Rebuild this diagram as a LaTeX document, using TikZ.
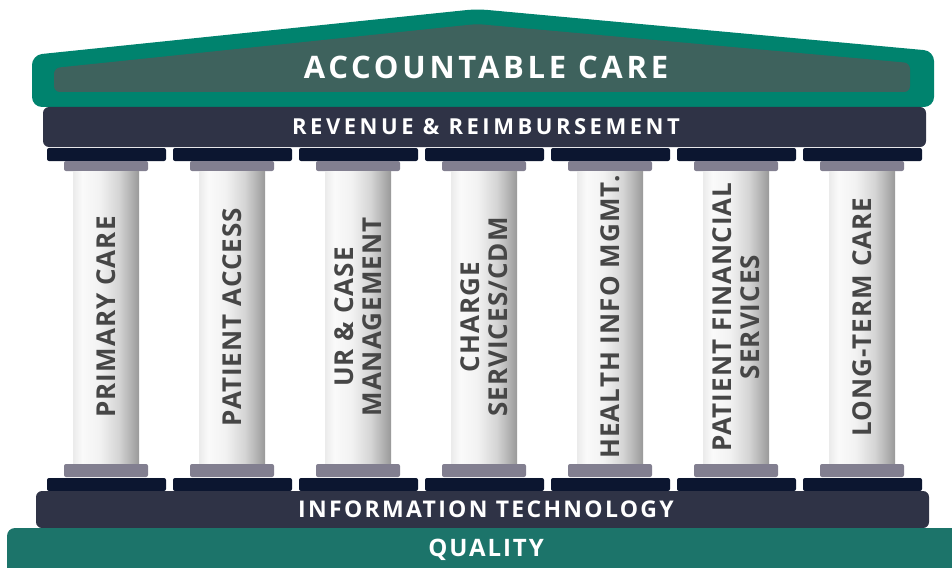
\documentclass[tikz,border=0pt]{standalone}
\usepackage{fontspec}
\setmainfont{Open Sans}
\newcommand\bandsize[2]{\bfseries\fontsize{#1}{#1}\selectfont\addfontfeatures{LetterSpace=#2}}
\definecolor{roofgreen}{HTML}{00836E}
\definecolor{roofinner}{HTML}{3E625D}
\definecolor{bandnavy}{HTML}{2F3346}
\definecolor{capnavy}{HTML}{0C1630}
\definecolor{capgrey}{HTML}{827F90}
\definecolor{qualgreen}{HTML}{1C746A}
\definecolor{pillartext}{HTML}{464646}
\pgfdeclarehorizontalshading{shaft}{100bp}{color(0bp)=(black!8); color(25bp)=(black!8); color(32bp)=(black!2); color(45bp)=(black!5); color(60bp)=(black!17); color(75bp)=(black!40); color(100bp)=(black!40)}
\begin{document}
\begin{tikzpicture}[x=1pt,y=-1pt,
    bandtext/.style={text=white, anchor=base},
    pillarlabel/.style={text=pillartext, font=\bfseries\fontsize{26}{28.5}\selectfont\addfontfeatures{LetterSpace=4}, rotate=90, align=center}]
  \useasboundingbox (0,0) rectangle (952,567);

  % roof
  \fill[roofgreen, rounded corners=10] (32,107) -- (32,55) -- (477,9) -- (934,51) -- (934,107) -- cycle;
  \fill[roofinner, rounded corners=6] (54,92) -- (54,68) -- (477,24) -- (910,63) -- (910,92) -- cycle;
  \node[bandtext, font=\bandsize{31}{12}] (care) at (486,79) {ACCOUNTABLE CARE};

  % beam
  \fill[bandnavy, rounded corners=6] (43,107) rectangle (926,147);
  \node[bandtext, font=\bandsize{22}{16}] (revenue) at (486,134) {REVENUE \& REIMBURSEMENT};

  % pillars
  \foreach \i in {0,...,6}{
    \fill[capnavy, rounded corners=2] (47+126*\i,148) rectangle (166+126*\i,161);
    \fill[capgrey, rounded corners=2] (64+126*\i,161) rectangle (148+126*\i,171);
    \shade[shading=shaft] (73+126*\i,171) rectangle (139+126*\i,464);
    \fill[capgrey, rounded corners=2] (64+126*\i,464) rectangle (148+126*\i,477);
    \fill[capnavy, rounded corners=2] (47+126*\i,478) rectangle (166+126*\i,491);
  }

  \foreach \i/\txt in {0/{PRIMARY CARE}, 1/{PATIENT ACCESS}, 2/{UR \& CASE\\MANAGEMENT},
      3/{CHARGE\\SERVICES/CDM}, 4/{HEALTH INFO MGMT.}, 5/{PATIENT FINANCIAL\\SERVICES},
      6/{LONG-TERM CARE}}{
    \node[pillarlabel] (pillar\i) at (106+126*\i,317) {\txt};
  }

  % base
  \fill[bandnavy, rounded corners=6] (36,491) rectangle (929,528);
  \node[bandtext, font=\bandsize{23}{10}] (it) at (486,517) {INFORMATION TECHNOLOGY};
  \fill[qualgreen, rounded corners=8] (7,528) rectangle (960,580);
  \node[bandtext, font=\bandsize{24}{8}] (quality) at (486,556) {QUALITY};
\end{tikzpicture}
\end{document}
